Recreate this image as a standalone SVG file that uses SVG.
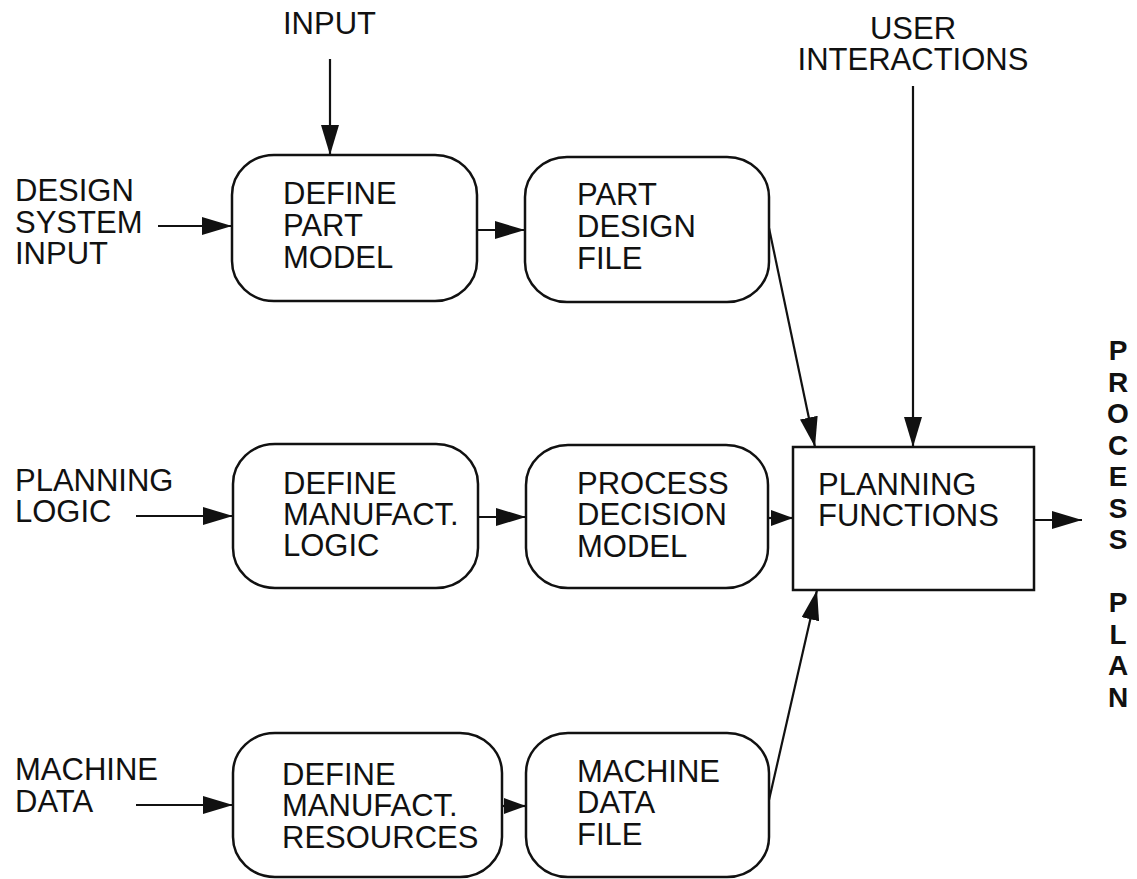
<svg xmlns="http://www.w3.org/2000/svg" width="1137" height="879" viewBox="0 0 1137 879">
<style>
.t{font-family:"Liberation Sans",Arial,Helvetica,sans-serif;font-size:31px;fill:#111}
.v{font-family:"Liberation Sans",Arial,Helvetica,sans-serif;font-size:28px;font-weight:bold;fill:#111;text-anchor:middle}
.box{fill:#fff;stroke:#111;stroke-width:2.5}
.ln{stroke:#111;stroke-width:2.2;fill:none}
</style>
<defs>
<marker id="ah" markerUnits="userSpaceOnUse" markerWidth="30" markerHeight="18" refX="30" refY="9" orient="auto">
<path d="M0,0 L30,9 L0,18 z" fill="#111"/>
</marker>
<marker id="ahs" markerUnits="userSpaceOnUse" markerWidth="22" markerHeight="16" refX="22" refY="8" orient="auto">
<path d="M0,0 L22,8 L0,16 z" fill="#111"/>
</marker>
</defs>
<rect width="1137" height="879" fill="#fff"/>

<g id="connectors">
<line class="ln" x1="330" y1="59" x2="330" y2="155" marker-end="url(#ah)"/>
<line class="ln" x1="158" y1="226" x2="232" y2="226" marker-end="url(#ah)"/>
<line class="ln" x1="477" y1="230" x2="525" y2="230" marker-end="url(#ah)"/>
<line class="ln" x1="769" y1="228" x2="815" y2="447" marker-end="url(#ah)"/>
<line class="ln" x1="913" y1="86" x2="913" y2="447" marker-end="url(#ah)"/>
<line class="ln" x1="136" y1="516" x2="233" y2="516" marker-end="url(#ah)"/>
<line class="ln" x1="478" y1="517" x2="526" y2="517" marker-end="url(#ah)"/>
<line class="ln" x1="768" y1="518" x2="793" y2="518" marker-end="url(#ahs)"/>
<line class="ln" x1="136" y1="805" x2="233" y2="805" marker-end="url(#ah)"/>
<line class="ln" x1="502" y1="806" x2="526" y2="806" marker-end="url(#ahs)"/>
<line class="ln" x1="769" y1="800" x2="817" y2="590" marker-end="url(#ah)"/>
<line class="ln" x1="1034" y1="520" x2="1082" y2="520" marker-end="url(#ah)"/>
</g>

<g id="label-input"><text class="t" x="283" y="34">INPUT</text></g>
<g id="label-user"><text class="t" x="913" y="39" text-anchor="middle">USER</text><text class="t" x="913" y="70" text-anchor="middle">INTERACTIONS</text></g>
<g id="label-design"><text class="t" x="15" y="201">DESIGN</text><text class="t" x="15" y="233">SYSTEM</text><text class="t" x="15" y="264">INPUT</text></g>
<g id="label-planning"><text class="t" x="15" y="491">PLANNING</text><text class="t" x="15" y="522">LOGIC</text></g>
<g id="label-machine"><text class="t" x="15" y="780">MACHINE</text><text class="t" x="15" y="812">DATA</text></g>

<g id="define-part-model">
<rect class="box" x="232" y="155" width="245" height="146" rx="42" ry="40"/>
<text class="t" x="283" y="204">DEFINE</text><text class="t" x="283" y="236">PART</text><text class="t" x="283" y="268">MODEL</text>
</g>
<g id="part-design-file">
<rect class="box" x="525" y="157" width="244" height="145" rx="42" ry="40"/>
<text class="t" x="577" y="205">PART</text><text class="t" x="577" y="237">DESIGN</text><text class="t" x="577" y="269">FILE</text>
</g>
<g id="define-manufact-logic">
<rect class="box" x="233" y="444" width="245" height="144" rx="42" ry="40"/>
<text class="t" x="283" y="494">DEFINE</text><text class="t" x="283" y="525">MANUFACT.</text><text class="t" x="283" y="556">LOGIC</text>
</g>
<g id="process-decision-model">
<rect class="box" x="526" y="445" width="242" height="143" rx="42" ry="40"/>
<text class="t" x="577" y="494">PROCESS</text><text class="t" x="577" y="525">DECISION</text><text class="t" x="577" y="557">MODEL</text>
</g>
<g id="define-manufact-resources">
<rect class="box" x="233" y="733" width="269" height="144" rx="42" ry="40"/>
<text class="t" x="282" y="785">DEFINE</text><text class="t" x="282" y="816">MANUFACT.</text><text class="t" x="282" y="848">RESOURCES</text>
</g>
<g id="machine-data-file">
<rect class="box" x="526" y="733" width="243" height="144" rx="42" ry="40"/>
<text class="t" x="577" y="782">MACHINE</text><text class="t" x="577" y="813">DATA</text><text class="t" x="577" y="845">FILE</text>
</g>
<g id="planning-functions">
<rect class="box" x="793" y="447" width="241" height="143"/>
<text class="t" x="818" y="495">PLANNING</text><text class="t" x="818" y="526">FUNCTIONS</text>
</g>
<g id="process-plan">
<text class="v" x="1118" y="360">P</text>
<text class="v" x="1118" y="391.5">R</text>
<text class="v" x="1118" y="423">O</text>
<text class="v" x="1118" y="454.5">C</text>
<text class="v" x="1118" y="486">E</text>
<text class="v" x="1118" y="517.5">S</text>
<text class="v" x="1118" y="549">S</text>
<text class="v" x="1118" y="612">P</text>
<text class="v" x="1118" y="643.5">L</text>
<text class="v" x="1118" y="675">A</text>
<text class="v" x="1118" y="706.5">N</text>
</g>
</svg>
